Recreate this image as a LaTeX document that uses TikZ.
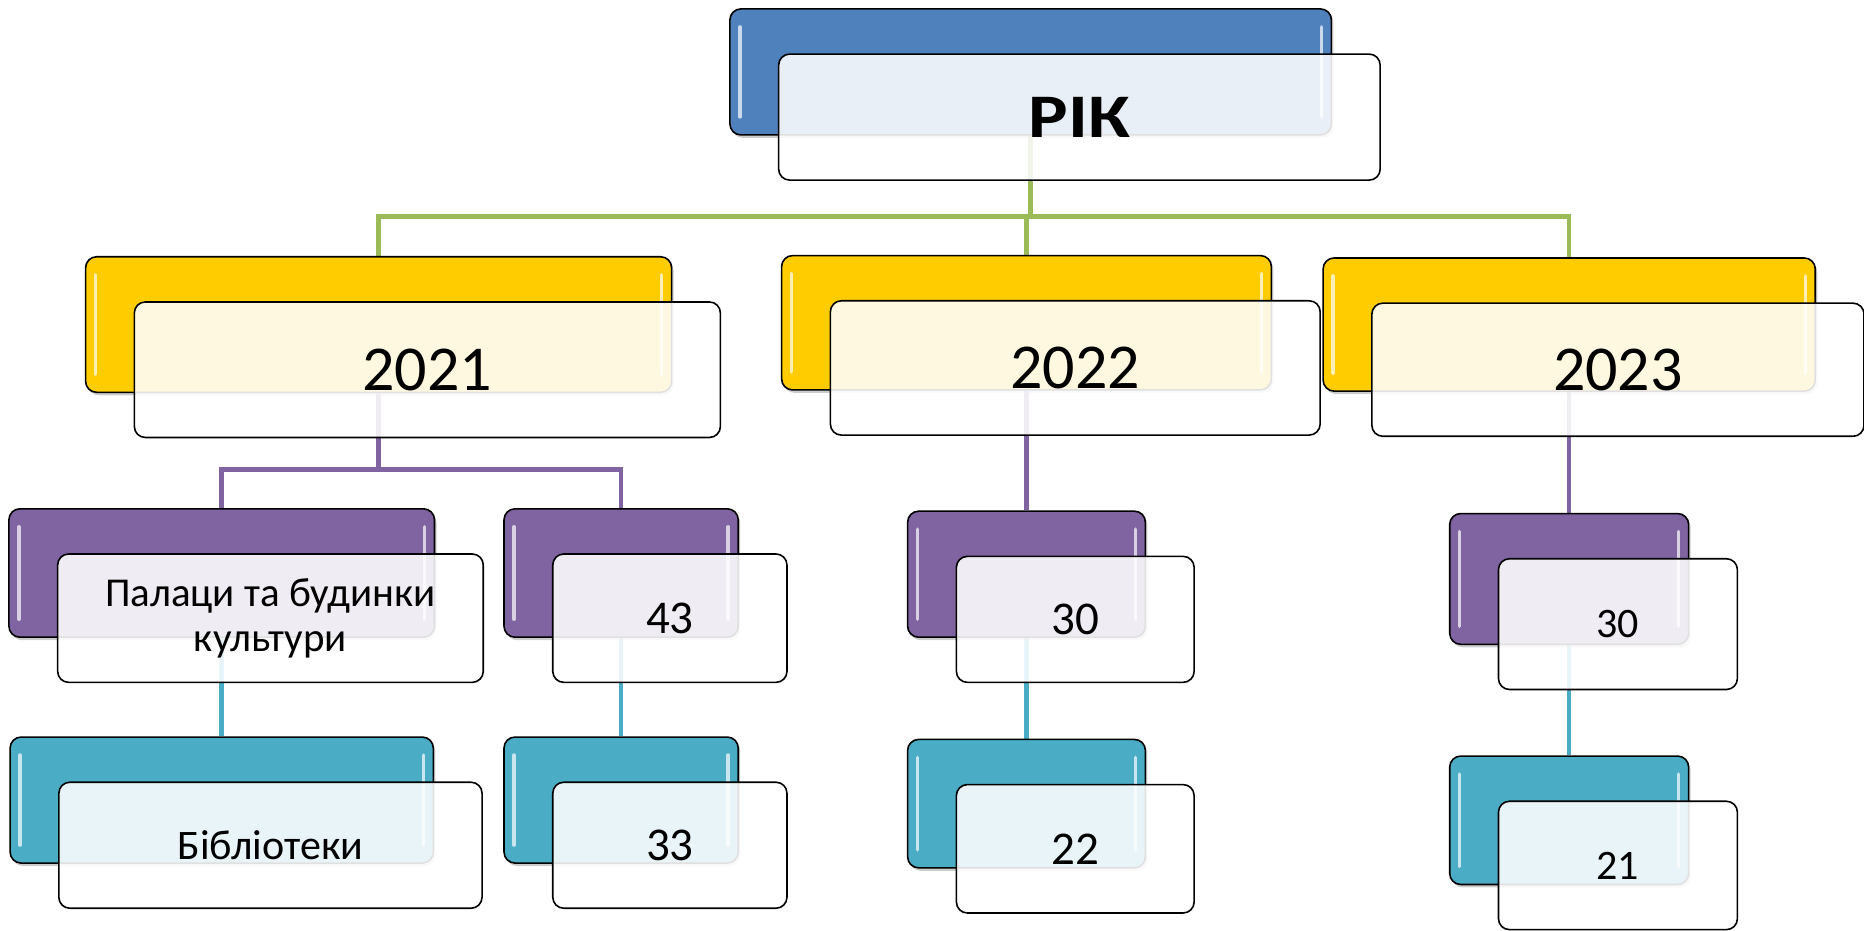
\documentclass[tikz,border=0pt]{standalone}
\usepackage{fontspec}
\setmainfont{Carlito}
\newfontfamily\rootfont[FakeStretch=1.2]{Carlito}
\usetikzlibrary{positioning,calc,shadows,backgrounds}

\definecolor{rootblue}{HTML}{4F81BD}
\definecolor{yearyellow}{HTML}{FFCC00}
\definecolor{kindpurple}{HTML}{8064A2}
\definecolor{kindcyan}{HTML}{4BACC6}
\definecolor{linkgreen}{HTML}{9BBB59}

\begin{document}
\begin{tikzpicture}[x=1.189pt, y=-1.189pt,
    back/.style={draw=black, line width=1.6pt, rounded corners=11pt, fill=#1,
      drop shadow={shadow xshift=2pt, shadow yshift=-3pt, opacity=0.4},
      path picture={
        \draw[white, opacity=0.7, line width=3.5pt, line cap=round]
          ([shift={(10pt,-18pt)}]path picture bounding box.north west)
          -- ([shift={(10pt,18pt)}]path picture bounding box.south west)
          ([shift={(-10pt,-18pt)}]path picture bounding box.north east)
          -- ([shift={(-10pt,18pt)}]path picture bounding box.south east);
      }},
    front/.style={draw=black, line width=1.6pt, rounded corners=11pt,
      fill=white, fill opacity=0.88, text opacity=1, align=center},
    link/.style={draw=#1, line width=4.5pt}]

  \useasboundingbox (0,0) rectangle (1568,783);

  \foreach \n/\x/\y/\w/\h/\c/\f/\t in {
      root/867/60.5/506/106/rootblue/62/{\rootfont\bfseries РІК},
      y21/318.5/273/493/114/yearyellow/64/2021,
      y22/863.5/271.5/412/113/yearyellow/64/2022,
      y23/1320/273/414/112/yearyellow/64/2023,
      p1/186.5/482/358/108/kindpurple/41/{Палаци та будинки\\культури},
      p2/522.5/482/197/108/kindpurple/47/43,
      p3/863.5/483/200/106/kindpurple/47/30,
      p4/1320/487/201/110/kindpurple/42/30,
      c1/186.5/673/356/106/kindcyan/42/Бібліотеки,
      c2/522.5/673/197/106/kindcyan/47/33,
      c3/863.5/676/200/108/kindcyan/47/22,
      c4/1320/690/201/108/kindcyan/42/21} {
    \node[back=\c, minimum width=\w*1.189pt, minimum height=\h*1.189pt] (b\n) at (\x,\y) {};
    \node[front, minimum width=\w*1.189pt, minimum height=\h*1.189pt,
      font=\fontsize{\f}{45}\selectfont] (f\n) at ([shift={(41,38)}]b\n.center) {\t};
  }

  \begin{scope}[on background layer]
    \coordinate (gbus) at (867,182);
    \foreach \k in {y21,y22,y23}
      \draw[link=linkgreen] (broot.south) |- (gbus -| b\k) -- (b\k.north);
    \coordinate (pbus) at (318.5,395);
    \foreach \k in {p1,p2}
      \draw[link=kindpurple] (by21.south) |- (pbus -| b\k) -- (b\k.north);
    \draw[link=kindpurple] (by22) -- (bp3);
    \draw[link=kindpurple] (by23) -- (bp4);
    \foreach \a/\k in {p1/c1,p2/c2,p3/c3,p4/c4}
      \draw[link=kindcyan] (b\a) -- (b\k);
  \end{scope}
\end{tikzpicture}
\end{document}
